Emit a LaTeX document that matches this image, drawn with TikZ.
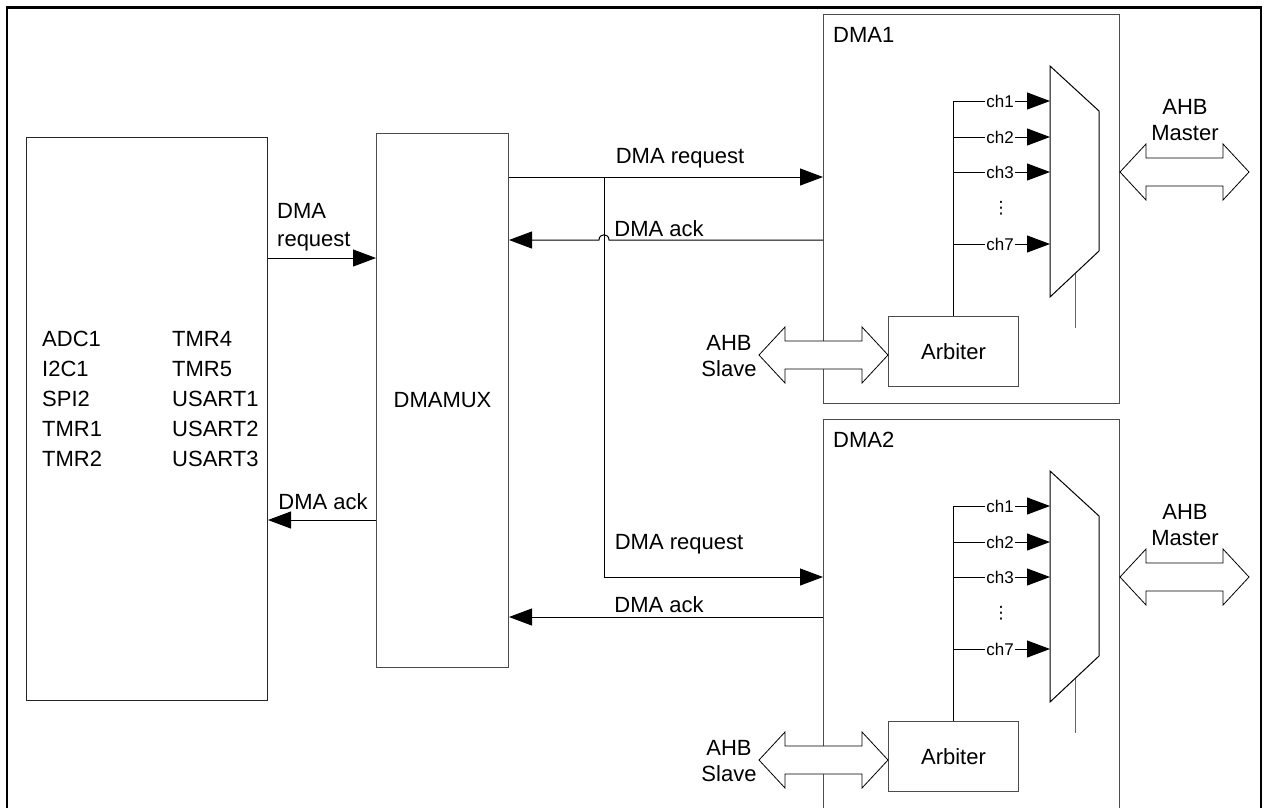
\documentclass[tikz,border=0pt]{standalone}
\usepackage{fontspec}
\setmainfont{Liberation Sans}
\newfontfamily\dejavu{DejaVu Sans}
\usetikzlibrary{arrows.meta}
\begin{document}
\begin{tikzpicture}[x=1pt,y=-1pt,
  box/.style={draw=black!70, line width=1pt, inner sep=0pt, anchor=north west, fill=white},
  lbl/.style={font=\fontsize{22}{26}\selectfont, inner sep=0pt},
  chl/.style={font=\fontsize{17}{20}\selectfont, inner sep=1pt},
  conn/.style={draw=black, line width=1pt},
  tip/.style={-{Triangle[length=23pt,width=17pt]}},
  dblarrow/.pic={\draw[line width=0.8pt, fill=white] (-64.5,0) -- (-38.5,-28) -- (-38.5,-14) -- (38.5,-14) -- (38.5,-28) -- (64.5,0) -- (38.5,28) -- (38.5,14) -- (-38.5,14) -- (-38.5,28) -- cycle;}
]
\useasboundingbox (0,0) rectangle (1268,807);
\clip (0,0) rectangle (1268,807);
% outer frame
\draw[line width=2.5pt] (7,830) -- (7,7.5) -- (1261,7.5) -- (1261,830);

% peripherals
\node[box, draw=black!85, minimum width=241pt, minimum height=563pt] (per) at (26,137) {};
\node[lbl, align=left, anchor=west, font=\fontsize{22}{30}\selectfont] (pl) at (42,399) {ADC1\\I2C1\\SPI2\\TMR1\\TMR2};
\node[lbl, align=left, anchor=west, font=\fontsize{22}{30}\selectfont] (pr) at (172,399) {TMR4\\TMR5\\USART1\\USART2\\USART3};

% DMAMUX
\node[box, minimum width=132pt, minimum height=534pt] (mux) at (376,133) {};
\node[lbl] (muxl) at (mux.center) {DMAMUX};

% periph <-> mux
\coordinate (pr1) at (300,258);
\coordinate (pa1) at (300,520);
\draw[conn,tip] (per.east |- pr1) -- (mux.west |- pr1);
\node[lbl, align=left, anchor=north west, font=\fontsize{22}{28.5}\selectfont] (preq) at (277,203) {DMA\\request};
\draw[conn,tip] (mux.west |- pa1) -- (per.east |- pa1);
\node[lbl] (pack) at (323,502) {DMA ack};

% DMA controllers
\foreach \d/\o/\h in {1/0/389,2/405/420}{
  \node[box, minimum width=296pt, minimum height=\h pt] (dma\d) at (823,14+\o) {};
  \node[lbl, anchor=west] (dmal\d) at (833,35+\o) {DMA\d};
  \draw[line width=1pt, fill=white] (1050,66+\o) -- (1099,111+\o) -- (1099,251+\o) -- (1050,297+\o) -- cycle;
  \coordinate (mx\d) at (1050,66+\o);
  \coordinate (mo\d) at (1075,274+\o);
  \draw[draw=black!60, line width=1pt] (mo\d) -- ++(0,54);
  \node[box, minimum width=130pt, minimum height=70pt, font=\fontsize{22}{26}\selectfont] (arb\d) at (888,316+\o) {Arbiter};
  \coordinate (bus\d) at (953,101+\o);
  \draw[conn] (bus\d) -- (bus\d |- arb\d.north);
  \foreach \c/\yy in {1/101,2/137,3/172,7/244}{
    \node[chl] (ch\d\c) at (1000,\yy+\o) {ch\c};
    \draw[conn] (953,\yy+\o) -- (ch\d\c.west);
    \draw[conn,tip] (ch\d\c.east) -- (mx\d |- ch\d\c);
  }
  \node[inner sep=0pt, font=\dejavu\fontsize{17}{20}\selectfont] (dots\d) at (1001,208+\o) {⋮};
  \pic at (823.5,355+\o) {dblarrow};
  \pic at (1184.5,172+\o) {dblarrow};
  \node[lbl, align=center] (slv\d) at (729,356+\o) {AHB\\Slave};
  \node[lbl, align=center] (mst\d) at (1185,120+\o) {AHB\\Master};
}

% mux <-> DMA
\coordinate (r1) at (604,177);
\coordinate (a1) at (700,240);
\coordinate (r2) at (604,577);
\coordinate (a2) at (700,617);
\draw[conn,tip] (mux.east |- r1) -- (dma1.west |- r1);
\draw[conn,tip] (r1) -- (r2) -- (dma2.west |- r2);
\draw[conn,tip] (dma1.west |- a1) -- (609,240) .. controls (609,233) and (599,233) .. (599,240) -- (mux.east |- a1);
\draw[conn,tip] (dma2.west |- a2) -- (mux.east |- a2);
\node[lbl] (rq1) at (680,158) {DMA request};
\node[lbl] (ak1) at (659,229) {DMA ack};
\node[lbl] (rq2) at (679,544) {DMA request};
\node[lbl] (ak2) at (659,605) {DMA ack};
\end{tikzpicture}
\end{document}
